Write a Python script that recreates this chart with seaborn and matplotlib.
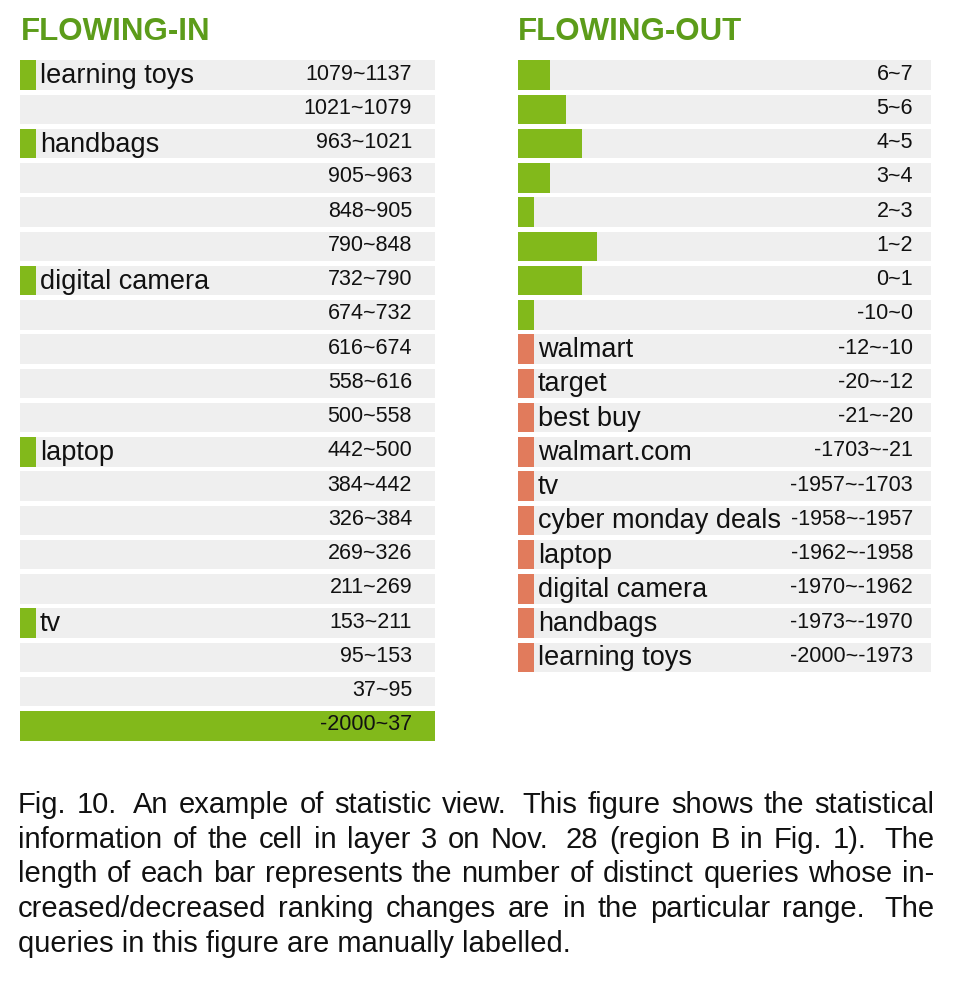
import re
import matplotlib
matplotlib.use("Agg")
import matplotlib.pyplot as plt
import seaborn as sns
import pandas as pd

# ── Data ─────────────────────────────────────────────────────────────────────
IN_RANGES = ["1079~1137", "1021~1079", "963~1021", "905~963", "848~905",
             "790~848", "732~790", "674~732", "616~674", "558~616",
             "500~558", "442~500", "384~442", "326~384", "269~326",
             "211~269", "153~211", "95~153", "37~95", "-2000~37"]
IN_COUNTS = [1, 0, 1, 0, 0, 0, 1, 0, 0, 0, 0, 1, 0, 0, 0, 0, 1, 0, 0, 26]
IN_QUERIES = ["learning toys", "", "handbags", "", "", "", "digital camera",
              "", "", "", "", "laptop", "", "", "", "", "tv", "", "", ""]

OUT_RANGES = ["6~7", "5~6", "4~5", "3~4", "2~3", "1~2", "0~1", "-10~0",
              "-12~-10", "-20~-12", "-21~-20", "-1703~-21", "-1957~-1703",
              "-1958~-1957", "-1962~-1958", "-1970~-1962", "-1973~-1970",
              "-2000~-1973"]
OUT_COUNTS = [2, 3, 4, 2, 1, 5, 4, 1, 1, 1, 1, 1, 1, 1, 1, 1, 1, 1]
OUT_QUERIES = ["", "", "", "", "", "", "", "", "walmart", "target",
               "best buy", "walmart.com", "tv", "cyber monday deals",
               "laptop", "digital camera", "handbags", "learning toys"]
OUT_DIRECTION = ["up", "up", "up", "up", "up", "up", "up", "up",
                 "down", "down", "down", "down", "down", "down", "down",
                 "down", "down", "down"]

SCALE_MAX = 26

CAPTION_LINES = [
    "Fig. 10.  An example of statistic view.  This figure shows the statistical",
    "information of the cell in layer 3 on Nov.  28 (region B in Fig. 1).  The",
    "length of each bar represents the number of distinct queries whose in-",
    "creased/decreased ranking changes are in the particular range.  The",
    "queries in this figure are manually labelled.",
]

# ── Style ────────────────────────────────────────────────────────────────────
GREEN = "#82b91b"
ORANGE = "#e17b5c"
TITLE_GREEN = "#5c9c1a"
BG = "#efefef"

sns.set_theme(style="white")
plt.rcParams["font.family"] = ["Liberation Sans", "DejaVu Sans"]

W, H = 955, 982
ROW = 34.25
fig = plt.figure(figsize=(W / 100, H / 100), dpi=100)


def px_axes(left, top, width, height):
    return fig.add_axes([left / W, 1 - (top + height) / H, width / W, height / H])


def draw_panel(ax, ranges, counts, queries, colors, range_pad):
    df = pd.DataFrame({"range": ranges, "count": counts, "query": queries,
                       "full": [SCALE_MAX] * len(ranges)})
    sns.barplot(data=df, x="full", y="range", color=BG, width=0.86,
                saturation=1, linewidth=0, ax=ax)
    sns.barplot(data=df, x="count", y="range", hue="range", palette=colors,
                width=0.86, saturation=1, linewidth=0, legend=False, ax=ax)
    for i, row in df.iterrows():
        ax.annotate(row["range"], xy=(SCALE_MAX, i), xytext=(-range_pad, 1),
                    textcoords="offset pixels", ha="right", va="center",
                    fontsize=15.5, color="#111111")
        if row["query"]:
            ax.annotate(row["query"], xy=(row["count"], i), xytext=(4, -1),
                        textcoords="offset pixels", ha="left", va="center",
                        fontsize=19.5, color="#111111")
    ax.set_xlim(0, SCALE_MAX)
    ax.set_ylim(len(ranges) - 0.5, -0.5)
    ax.axis("off")


ax_in = px_axes(20, 58, 415, ROW * len(IN_RANGES))
draw_panel(ax_in, IN_RANGES, IN_COUNTS, IN_QUERIES,
           [GREEN] * len(IN_RANGES), 23)

ax_out = px_axes(518, 58, 413, ROW * len(OUT_RANGES))
out_colors = [GREEN if d == "up" else ORANGE for d in OUT_DIRECTION]
draw_panel(ax_out, OUT_RANGES, OUT_COUNTS, OUT_QUERIES, out_colors, 18)

fig.text(21 / W, 1 - 40 / H, "FLOWING-IN", fontsize=22.5, fontweight="bold",
         color=TITLE_GREEN, va="baseline")
fig.text(518 / W, 1 - 40 / H, "FLOWING-OUT", fontsize=22.5, fontweight="bold",
         color=TITLE_GREEN, va="baseline")

# ── Caption (justified like the paper) ───────────────────────────────────────
renderer = fig.canvas.get_renderer()
CAP_X0, CAP_X1 = 18, 934
CAP_SIZE = 21


def justified_line(text, y, last=False):
    if last:
        fig.text(CAP_X0 / W, 1 - y / H, text, fontsize=CAP_SIZE,
                 va="baseline", color="#111111")
        return
    parts = re.split(r"( +)", text)
    words = parts[0::2]
    gaps = [1.0 if len(g) == 1 else 1.6 for g in parts[1::2]]
    objs = [fig.text(0, 1 - y / H, w, fontsize=CAP_SIZE, va="baseline",
                     color="#111111") for w in words]
    widths = [o.get_window_extent(renderer).width for o in objs]
    unit = (CAP_X1 - CAP_X0 - sum(widths)) / sum(gaps)
    x = CAP_X0
    for k, o in enumerate(objs):
        o.set_x(x / W)
        x += widths[k]
        if k < len(gaps):
            x += gaps[k] * unit


for n, (line, y) in enumerate(zip(CAPTION_LINES, [813, 848, 882, 917, 952])):
    justified_line(line, y, last=(n == len(CAPTION_LINES) - 1))

fig.savefig("out.png", dpi=100)
